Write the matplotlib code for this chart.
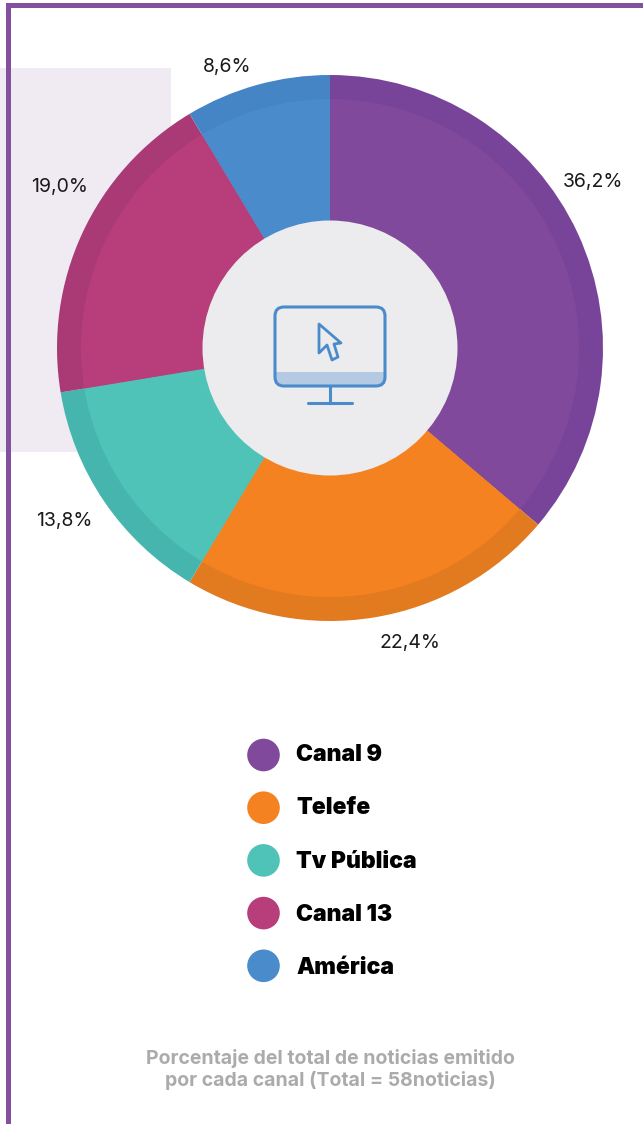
import matplotlib
matplotlib.use('Agg')
import matplotlib.pyplot as plt
from matplotlib.patches import Circle, FancyBboxPatch, Polygon, Rectangle

canales = ['Canal 9', 'Telefe', 'Tv Pública', 'Canal 13', 'América']
valores = [36.2, 22.4, 13.8, 19.0, 8.6]
etiquetas = ['36,2%', '22,4%', '13,8%', '19,0%', '8,6%']
colores = ['#81499B', '#F58220', '#4FC3B7', '#B73E7B', '#4A8BCB']
colores_borde = ['#78449A', '#E27A1F', '#46B5AD', '#A93A76', '#4585C5']
pos_etiquetas = [(593, 187), (410, 648), (64, 526), (59, 192), (227, 72)]
nota = ['Porcentaje del total de noticias emitido', 'por cada canal (Total = 58noticias)']

CENTRO = (330, 348)
AZUL = '#4A8BCB'
FUENTE = 'Inter'

fig = plt.figure(figsize=(6.43, 11.24), dpi=100)
ax = fig.add_axes([0, 0, 1, 1])

# fondo y marco
ax.add_patch(Rectangle((0, 68), 171, 384, color='#F0EBF3', lw=0, zorder=0))
ax.add_patch(Rectangle((6, 3), 5, 1121, color='#8350A0', lw=0, zorder=1))
ax.add_patch(Rectangle((6, 3), 637, 5, color='#8350A0', lw=0, zorder=1))

# anillo exterior mas oscuro, anillo interior y agujero
ax.pie(valores, colors=colores_borde, center=CENTRO, radius=273,
       startangle=270, counterclock=True, wedgeprops={'linewidth': 0})
ax.pie(valores, colors=colores, center=CENTRO, radius=249,
       startangle=270, counterclock=True, wedgeprops={'linewidth': 0})
ax.add_patch(Circle(CENTRO, 127.5, color='#ECECEE', lw=0, zorder=3))

# icono del monitor
monitor = FancyBboxPatch((275, 307), 110, 79, boxstyle='round,pad=0,rounding_size=9',
                         fc='none', ec=AZUL, lw=2.2, zorder=6)
ax.add_patch(monitor)
banda = Rectangle((275, 372), 110, 14, color='#B4C9E2', lw=0, zorder=5)
ax.add_patch(banda)
banda.set_clip_path(monitor)
ax.plot([330, 330], [387, 403], color=AZUL, lw=2.2, zorder=6)
ax.plot([308, 352], [403, 403], color=AZUL, lw=2.2, solid_capstyle='round', zorder=6)
cursor = [(319, 324), (341, 343), (334, 344), (338, 357), (332, 360), (327, 345), (319, 353)]
ax.add_patch(Polygon(cursor, closed=True, fc='none', ec=AZUL, lw=2.0,
                     joinstyle='round', zorder=6))

for txt, (x, y) in zip(etiquetas, pos_etiquetas):
    ax.text(x, y, txt, ha='center', va='baseline', fontsize=14, color='#1A1A1A',
            family=FUENTE, zorder=7)

# leyenda
for i, canal in enumerate(canales):
    ax.add_patch(Circle((263.5, 755 + i * 52.7), 16.3, color=colores[i], lw=0, zorder=4))
    ax.text(296, 761 + i * 53.3, canal, ha='left', va='baseline', fontsize=16.5, color='black',
            fontweight='black', family=FUENTE, zorder=7)

for i, linea in enumerate(nota):
    ax.text(330, 1064 + i * 22, linea, ha='center', va='baseline', fontsize=14, color='#ABABAB',
            fontweight='bold', family=FUENTE, zorder=7)

ax.set_xlim(0, 643)
ax.set_ylim(1124, 0)
ax.axis('off')
fig.savefig('out.png', dpi=100, facecolor='white')
